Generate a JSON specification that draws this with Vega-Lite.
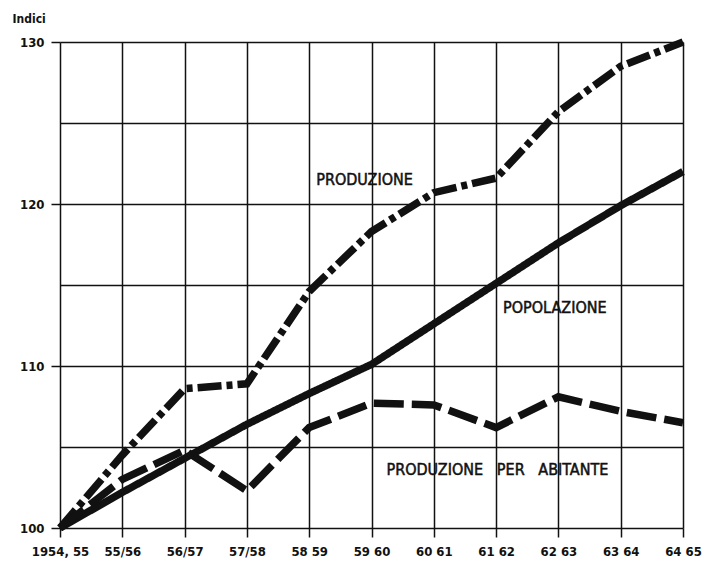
{
  "$schema": "https://vega.github.io/schema/vega-lite/v6.json",
  "width": 623,
  "height": 486,
  "autosize": {"type": "none"},
  "padding": {"left": 60, "top": 42, "right": 28, "bottom": 39},
  "background": "white",
  "config": {"view": {"stroke": null}, "font": "'DejaVu Sans Condensed', 'Liberation Sans', sans-serif"},
  "datasets": {
    "serie": [
      {"periodo": "1954, 55", "serie": "Produzione", "indice": 100},
      {"periodo": "55/56", "serie": "Produzione", "indice": 104.5},
      {"periodo": "56/57", "serie": "Produzione", "indice": 108.6},
      {"periodo": "57/58", "serie": "Produzione", "indice": 108.9},
      {"periodo": "58 59", "serie": "Produzione", "indice": 114.6},
      {"periodo": "59 60", "serie": "Produzione", "indice": 118.3},
      {"periodo": "60 61", "serie": "Produzione", "indice": 120.7},
      {"periodo": "61 62", "serie": "Produzione", "indice": 121.6},
      {"periodo": "62 63", "serie": "Produzione", "indice": 125.7},
      {"periodo": "63 64", "serie": "Produzione", "indice": 128.5},
      {"periodo": "64 65", "serie": "Produzione", "indice": 130},
      {"periodo": "1954, 55", "serie": "Popolazione", "indice": 100},
      {"periodo": "55/56", "serie": "Popolazione", "indice": 102.2},
      {"periodo": "56/57", "serie": "Popolazione", "indice": 104.3},
      {"periodo": "57/58", "serie": "Popolazione", "indice": 106.4},
      {"periodo": "58 59", "serie": "Popolazione", "indice": 108.3},
      {"periodo": "59 60", "serie": "Popolazione", "indice": 110.1},
      {"periodo": "60 61", "serie": "Popolazione", "indice": 112.6},
      {"periodo": "61 62", "serie": "Popolazione", "indice": 115.1},
      {"periodo": "62 63", "serie": "Popolazione", "indice": 117.6},
      {"periodo": "63 64", "serie": "Popolazione", "indice": 119.9},
      {"periodo": "64 65", "serie": "Popolazione", "indice": 122.0},
      {"periodo": "1954, 55", "serie": "Produzione per abitante", "indice": 100},
      {"periodo": "55/56", "serie": "Produzione per abitante", "indice": 103.0},
      {"periodo": "56/57", "serie": "Produzione per abitante", "indice": 104.8},
      {"periodo": "57/58", "serie": "Produzione per abitante", "indice": 102.3},
      {"periodo": "58 59", "serie": "Produzione per abitante", "indice": 106.2},
      {"periodo": "59 60", "serie": "Produzione per abitante", "indice": 107.7},
      {"periodo": "60 61", "serie": "Produzione per abitante", "indice": 107.6},
      {"periodo": "61 62", "serie": "Produzione per abitante", "indice": 106.2},
      {"periodo": "62 63", "serie": "Produzione per abitante", "indice": 108.1},
      {"periodo": "63 64", "serie": "Produzione per abitante", "indice": 107.2},
      {"periodo": "64 65", "serie": "Produzione per abitante", "indice": 106.5}
    ],
    "etichette": [
      {"testo": "PRODUZIONE", "periodo": "58 59", "indice": 121.5},
      {"testo": "POPOLAZIONE", "periodo": "61 62", "indice": 113.6}
    ],
    "etichetta_abitante": [
      {"testo": "PRODUZIONE\u00a0\u00a0 PER\u00a0\u00a0 ABITANTE", "periodo": "59 60", "indice": 103.6}
    ]
  },
  "encoding": {
    "x": {
      "field": "periodo",
      "type": "ordinal",
      "sort": ["1954, 55", "55/56", "56/57", "57/58", "58 59", "59 60", "60 61", "61 62", "62 63", "63 64", "64 65"],
      "scale": {"type": "point", "padding": 0},
      "axis": {
        "title": null,
        "grid": true,
        "gridColor": "#111",
        "gridWidth": 1.5,
        "domain": false,
        "ticks": true,
        "tickColor": "#111",
        "tickWidth": 1.5,
        "tickSize": 9,
        "labelPadding": 8,
        "labelAngle": 0,
        "labelBaseline": "top",
        "labelFontWeight": "bold",
        "labelFontSize": 13,
        "labelColor": "#111"
      }
    },
    "y": {
      "field": "indice",
      "type": "quantitative",
      "scale": {"domain": [100, 130], "nice": false, "zero": false},
      "axis": {
        "title": "Indici",
        "titleAngle": 0,
        "titleAlign": "left",
        "titleBaseline": "top",
        "titleX": -48,
        "titleY": -29,
        "titleFontWeight": "bold",
        "titleFontSize": 12,
        "titleColor": "#111",
        "values": [100, 105, 110, 115, 120, 125, 130],
        "labelExpr": "datum.value % 10 === 0 ? datum.label : ''",
        "grid": true,
        "gridColor": "#111",
        "gridWidth": 1.5,
        "domain": false,
        "tickColor": "#111",
        "tickWidth": 1.5,
        "tickSize": 9,
        "tickOpacity": {"condition": {"test": "datum.value % 10 === 0", "value": 1}, "value": 0},
        "labelPadding": 7,
        "labelFontWeight": "bold",
        "labelFontSize": 13,
        "labelColor": "#111"
      }
    }
  },
  "layer": [
    {
      "data": {"name": "serie"},
      "mark": {"type": "line", "strokeWidth": 7.5, "strokeCap": "butt", "strokeJoin": "miter", "color": "#111"},
      "encoding": {
        "detail": {"field": "serie"},
        "strokeDash": {
          "field": "serie",
          "type": "nominal",
          "scale": {
            "domain": ["Produzione", "Popolazione", "Produzione per abitante"],
            "range": [[24, 5, 6, 5], [1, 0], [30, 8]]
          },
          "legend": null
        }
      }
    },
    {
      "data": {"name": "etichette"},
      "mark": {"type": "text", "align": "left", "baseline": "middle", "dx": 7, "fontSize": 16, "color": "#111", "stroke": "#111", "strokeWidth": 0.5},
      "encoding": {"text": {"field": "testo"}}
    },
    {
      "data": {"name": "etichetta_abitante"},
      "mark": {"type": "text", "align": "left", "baseline": "middle", "dx": 15, "fontSize": 16, "color": "#111", "stroke": "#111", "strokeWidth": 0.5},
      "encoding": {"text": {"field": "testo"}}
    }
  ]
}
